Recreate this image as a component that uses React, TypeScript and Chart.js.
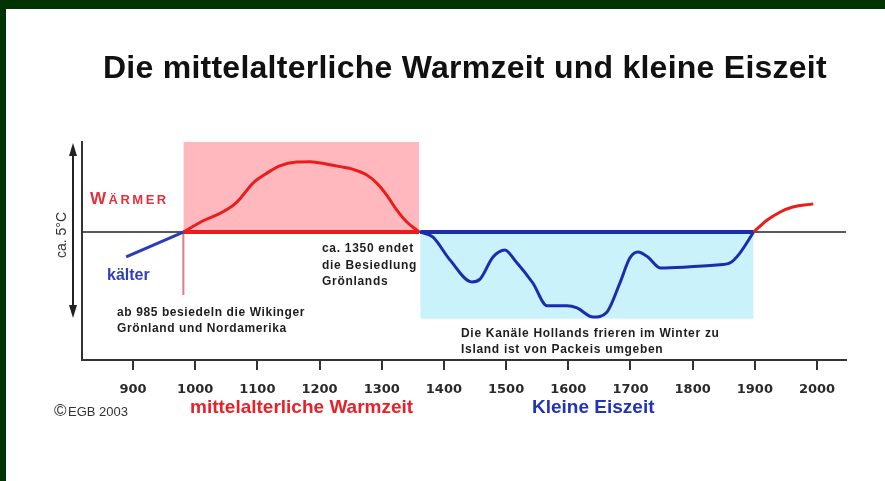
import React, { useEffect, useRef } from "react";
import { Chart, registerables } from "chart.js";

Chart.register(...registerables);

// ---- data (years on x, temperature deviation in °C on y) ----
const tickYears = [900, 1000, 1100, 1200, 1300, 1400, 1500, 1600, 1700, 1800, 1900, 2000];

const earlyYears = [889, 981];
const earlyTemps = [-0.71, 0];

const warmYears = [981, 1013, 1040, 1064, 1077, 1093, 1115, 1136, 1163, 1185, 1212, 1233, 1254, 1276, 1292, 1308, 1324, 1340, 1360];
const warmTemps = [0, 0.32, 0.53, 0.8, 1.05, 1.39, 1.67, 1.88, 1.99, 2.0, 1.93, 1.86, 1.78, 1.62, 1.39, 1.05, 0.63, 0.29, 0];

const coldYears = [1362, 1382, 1410, 1445, 1458, 1479, 1498, 1514, 1543, 1566, 1598, 1614, 1640, 1662, 1683, 1699, 1712, 1728, 1748, 1785, 1839, 1860, 1876, 1898];
const coldTemps = [0, -0.14, -0.8, -1.42, -1.34, -0.71, -0.51, -0.8, -1.45, -2.1, -2.1, -2.16, -2.42, -2.28, -1.45, -0.74, -0.57, -0.71, -1.02, -1.0, -0.94, -0.88, -0.6, 0];

const modernYears = [1898, 1920, 1941, 1961, 1994];
const modernTemps = [0, 0.34, 0.57, 0.71, 0.8];

const warmPeriod = [981, 1360];
const coldPeriod = [1362, 1898];
const warmBandTop = 2.6;
const coldBandBottom = -2.47;
const settlementYear = 981;
const settlementLineBottom = -1.79;
const xRange = [818, 2046.6];
const yRange = [-3.64, 2.56];

const RED = "#ec1c1c";
const BLUE = "#1c2cae";

function pts(xs: number[], ys: number[]) {
  return xs.map((x, i) => ({ x, y: ys[i] }));
}

function txt(ctx: CanvasRenderingContext2D, s: string, x: number, y: number, font: string, color: string, spacing = 0, align: CanvasTextAlign = "left") {
  ctx.font = font;
  ctx.fillStyle = color;
  ctx.textAlign = align;
  ctx.textBaseline = "alphabetic";
  (ctx as any).letterSpacing = spacing + "px";
  ctx.fillText(s, x, y);
  (ctx as any).letterSpacing = "0px";
}

const SANS = '"Liberation Sans", Arial, sans-serif';

const overlay = {
  id: "overlay",
  beforeDraw(chart: any) {
    const ctx = chart.ctx as CanvasRenderingContext2D;
    ctx.save();
    ctx.fillStyle = "#ffffff";
    ctx.fillRect(0, 0, chart.width, chart.height);
    ctx.fillStyle = "#013201";
    ctx.fillRect(0, 0, chart.width, 9);
    ctx.fillRect(0, 0, 6, chart.height);
    ctx.restore();
  },
  afterDraw(chart: any) {
    const ctx = chart.ctx as CanvasRenderingContext2D;
    ctx.save();
    // title
    txt(ctx, "Die mittelalterliche Warmzeit und kleine Eiszeit", 103, 78, `bold 32px ${SANS}`, "#111", 0.25);

    // double arrow
    ctx.strokeStyle = "#222";
    ctx.fillStyle = "#222";
    ctx.lineWidth = 2;
    ctx.beginPath();
    ctx.moveTo(73, 150);
    ctx.lineTo(73, 311);
    ctx.stroke();
    ctx.beginPath();
    ctx.moveTo(73, 143);
    ctx.lineTo(69, 156);
    ctx.lineTo(77, 156);
    ctx.closePath();
    ctx.fill();
    ctx.beginPath();
    ctx.moveTo(73, 318);
    ctx.lineTo(69, 305);
    ctx.lineTo(77, 305);
    ctx.closePath();
    ctx.fill();

    // ca. 5°C rotated
    ctx.save();
    ctx.translate(62, 235);
    ctx.rotate(-Math.PI / 2);
    ctx.font = `14px ${SANS}`;
    ctx.fillStyle = "#333";
    ctx.textAlign = "center";
    ctx.textBaseline = "middle";
    ctx.fillText("ca. 5°C", 0, 0);
    ctx.restore();

    // WÄRMER (small caps)
    txt(ctx, "W", 90, 204, `bold 17px ${SANS}`, "#e0323c");
    ctx.font = `bold 17px ${SANS}`;
    const wW = ctx.measureText("W").width;
    txt(ctx, "ÄRMER", 90 + wW + 2.5, 204, `bold 13px ${SANS}`, "#e0323c", 2.5);

    // kälter
    txt(ctx, "kälter", 107, 280, `bold 16px ${SANS}`, "#3040b8");

    const note = `bold 12px ${SANS}`;
    const noteC = "#1e1e1e";
    txt(ctx, "ab 985 besiedeln die Wikinger", 117, 316, note, noteC, 0.6);
    txt(ctx, "Grönland und Nordamerika", 117, 331.5, note, noteC, 0.6);

    txt(ctx, "ca. 1350 endet", 322, 252, note, noteC, 0.7);
    txt(ctx, "die Besiedlung", 322, 268.5, note, noteC, 0.7);
    txt(ctx, "Grönlands", 322, 285, note, noteC, 0.7);

    txt(ctx, "Die Kanäle Hollands frieren im Winter zu", 461, 337, note, noteC, 0.7);
    txt(ctx, "Island ist von Packeis umgeben", 461, 352.5, note, noteC, 0.7);

    // bottom labels
    txt(ctx, "©", 54, 416, `17px ${SANS}`, "#333");
    txt(ctx, "EGB 2003", 68, 416, `13px ${SANS}`, "#333");
    txt(ctx, "mittelalterliche Warmzeit", 190, 413, `bold 19px ${SANS}`, "#e8202a");
    txt(ctx, "Kleine Eiszeit", 532, 413, `bold 19px ${SANS}`, "#2233bb");
    ctx.restore();
  },
};

export default function App() {
  const ref = useRef<HTMLCanvasElement | null>(null);
  useEffect(() => {
    if (!ref.current) return;
    const chart = new Chart(ref.current, {
      type: "line",
      data: {
        datasets: [
          {
            label: "modern",
            data: pts(modernYears, modernTemps),
            borderColor: RED,
            borderWidth: 3,
            pointRadius: 0,
            cubicInterpolationMode: "monotone",
            order: 1,
          },
          {
            label: "warm",
            data: pts(warmYears, warmTemps),
            borderColor: RED,
            borderWidth: 3,
            pointRadius: 0,
            cubicInterpolationMode: "monotone",
            order: 1,
          },
          {
            label: "cold",
            data: pts(coldYears, coldTemps),
            borderColor: BLUE,
            borderWidth: 3,
            pointRadius: 0,
            cubicInterpolationMode: "monotone",
            order: 1,
          },
          {
            label: "early",
            data: pts(earlyYears, earlyTemps),
            borderColor: "#2a3cb8",
            borderWidth: 3,
            pointRadius: 0,
            order: 1,
          },
          {
            label: "warm baseline",
            data: pts(warmPeriod, [0, 0]),
            borderColor: RED,
            borderWidth: 4,
            pointRadius: 0,
            order: 3,
          },
          {
            label: "cold baseline",
            data: pts(coldPeriod, [0, 0]),
            borderColor: BLUE,
            borderWidth: 4,
            pointRadius: 0,
            order: 3,
          },
          {
            label: "settlement",
            data: pts([settlementYear, settlementYear], [0, settlementLineBottom]),
            borderColor: "#e07c86",
            borderWidth: 2,
            pointRadius: 0,
            order: 4,
          },
          {
            label: "baseline",
            data: pts(xRange, [0, 0]),
            borderColor: "#222",
            borderWidth: 1.5,
            pointRadius: 0,
            order: 5,
          },
          {
            label: "warm band",
            data: pts(warmPeriod, [warmBandTop, warmBandTop]),
            borderWidth: 0,
            borderColor: "rgba(0,0,0,0)",
            backgroundColor: "#ffb9be",
            fill: { value: 0 },
            pointRadius: 0,
            order: 10,
          },
          {
            label: "cold band",
            data: pts(coldPeriod, [coldBandBottom, coldBandBottom]),
            borderWidth: 0,
            borderColor: "rgba(0,0,0,0)",
            backgroundColor: "#caf2fa",
            fill: { value: 0 },
            pointRadius: 0,
            order: 10,
          },
        ],
      },
      options: {
        animation: false,
        responsive: false,
        devicePixelRatio: 1,
        layout: { padding: { left: 0, top: 142, right: 39, bottom: 0 } },
        plugins: {
          legend: { display: false },
          tooltip: { enabled: false },
          title: { display: false },
        },
        scales: {
          x: {
            type: "linear",
            min: xRange[0],
            max: xRange[1],
            afterBuildTicks: (axis: any) => {
              axis.ticks = tickYears.map((v) => ({ value: v }));
            },
            afterFit: (scale: any) => {
              scale.height = 121;
            },
            ticks: {
              callback: (v: any) => String(v),
              color: "#2a2a2a",
              font: { family: '"DejaVu Sans"', size: 13, weight: "bold" },
              padding: 12,
              maxRotation: 0,
              autoSkip: false,
            },
            grid: {
              drawOnChartArea: false,
              drawTicks: true,
              tickLength: 10,
              color: "#333",
              lineWidth: 2,
            },
            border: { display: true, color: "#333", width: 2 },
          },
          y: {
            type: "linear",
            min: yRange[0],
            max: yRange[1],
            afterFit: (scale: any) => {
              scale.width = 82;
            },
            ticks: { display: false },
            grid: { display: false },
            border: { display: true, color: "#333", width: 2 },
          },
        },
      },
      plugins: [overlay],
    } as any);
    return () => chart.destroy();
  }, []);

  return (
    <div style={{ position: "fixed", left: 0, top: 0, width: 885, height: 481 }}>
      <canvas ref={ref} width={885} height={481} style={{ display: "block", width: 885, height: 481 }} />
    </div>
  );
}
